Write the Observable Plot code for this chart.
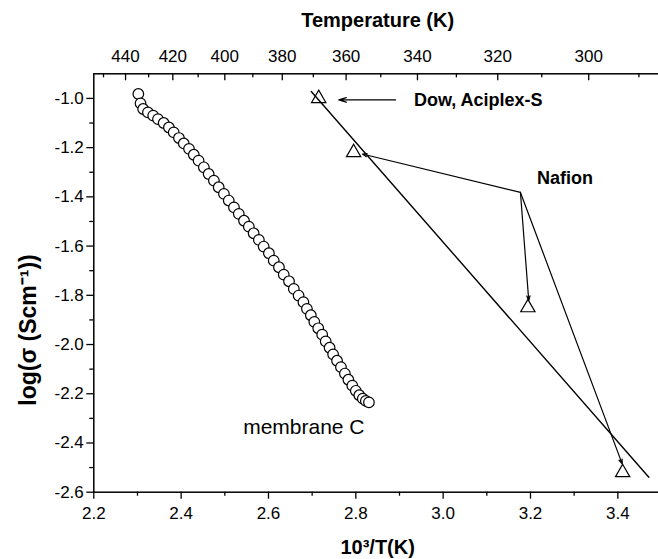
<!DOCTYPE html>
<html><head><meta charset="utf-8">
<script src="https://cdn.jsdelivr.net/npm/d3@7"></script>
<script src="https://cdn.jsdelivr.net/npm/@observablehq/plot@0.6"></script>
<style>
body{margin:0;background:#fff;}
#chart svg{font-family:"Liberation Sans", Arial, sans-serif;}
</style>
</head><body><div id="chart"></div>
<script>
// membrane C (open circles)
const memX = [2.302,2.307,2.313,2.324,2.336,2.347,2.360,2.372,2.383,2.395,2.406,2.418,2.429,2.440,2.452,2.463,2.475,2.486,2.498,2.509,2.521,2.532,2.544,2.555,2.566,2.578,2.589,2.601,2.612,2.624,2.635,2.647,2.658,2.669,2.680,2.688,2.697,2.705,2.714,2.723,2.731,2.740,2.748,2.757,2.766,2.775,2.783,2.792,2.800,2.808,2.816,2.823,2.830];
const memY = [-0.982,-1.020,-1.043,-1.057,-1.070,-1.084,-1.100,-1.118,-1.138,-1.161,-1.183,-1.205,-1.229,-1.253,-1.280,-1.307,-1.334,-1.361,-1.388,-1.415,-1.443,-1.469,-1.497,-1.521,-1.548,-1.575,-1.602,-1.629,-1.659,-1.686,-1.716,-1.743,-1.774,-1.801,-1.828,-1.855,-1.881,-1.908,-1.934,-1.960,-1.987,-2.013,-2.040,-2.066,-2.092,-2.118,-2.143,-2.167,-2.188,-2.206,-2.220,-2.229,-2.235];
// literature points (open triangles): Dow/Aciplex-S and Nafion
const triX = [2.715, 2.795, 3.194, 3.411];
const triY = [-1.00, -1.22, -1.85, -2.52];
// straight line
const fitX = [2.698, 3.471];
const fitY = [-0.972, -2.539];
// arrows
const dowArrowFrom = [2.891, -1.006], dowArrowTo = [2.761, -1.006];
const nafionFrom = [3.177, -1.382];
const nafionToX = [2.815, 3.196, 3.410];
const nafionToY = [-1.226, -1.821, -2.485];
// annotations
const labelText = ["Dow, Aciplex-S", "Nafion"];
const labelX = [2.933, 3.215];
const labelY = [-1.007, -1.326];
const memLabel = "membrane C", memLabelX = 2.82, memLabelY = -2.336;
// ticks
const xTicks = [2.2,2.4,2.6,2.8,3.0,3.2,3.4];
const xMinor = [2.3,2.5,2.7,2.9,3.1,3.3,3.5];
const yTicks = [-2.6,-2.4,-2.2,-2.0,-1.8,-1.6,-1.4,-1.2,-1.0];
const yMinor = [-2.5,-2.3,-2.1,-1.9,-1.7,-1.5,-1.3,-1.1];
const topTemps = [440,420,400,380,360,340,320,300];
const topMinorTemps = [450,430,410,390,370,350,330,310,290];
const xTitle = "10\u00B3/T(K)";
const yTitle = "log(\u03C3 (Scm\u207B\u00B9))";
const topTitle = "Temperature (K)";

const W = 658, H = 559, mT = 73.3, mB = 67.3, mL = 93.3, mR = -3;
const frameH = H - mT - mB;

const mem = memX.map((x,i)=>({x, y: memY[i]}));
const tri = triX.map((x,i)=>({x, y: triY[i]}));
const fit = fitX.map((x,i)=>({x, y: fitY[i]}));
const nafArrows = nafionToX.map((x,i)=>({x1: nafionFrom[0], y1: nafionFrom[1], x2: x, y2: nafionToY[i]}));
const dowArrow = [{x1: dowArrowFrom[0], y1: dowArrowFrom[1], x2: dowArrowTo[0], y2: dowArrowTo[1]}];
const labels = labelText.map((t,i)=>({t, x: labelX[i], y: labelY[i]}));
const topMajor = topTemps.map(t=>1000/t);
const topMinor = topMinorTemps.map(t=>1000/t);

const chart = Plot.plot({
  width: W, height: H,
  marginTop: mT, marginBottom: mB, marginLeft: mL, marginRight: mR,
  style: {fontFamily: '"Liberation Sans", Arial, sans-serif', background: "white", color: "black"},
  x: {domain: [2.2, 3.5]},
  y: {domain: [-2.6, -0.9]},
  marks: [
    Plot.frame({stroke: "black", strokeWidth: 1.5}),
    Plot.axisY(yTicks, {tickSize: 7, tickPadding: 3, strokeWidth: 1.3, tickFormat: d => d.toFixed(1), fontSize: 17, label: null}),
    Plot.axisY(yMinor, {tickSize: 4, strokeWidth: 1.3, tickFormat: () => "", label: null}),
    Plot.axisX(xTicks, {anchor: "bottom", tickSize: 7, tickPadding: 8, strokeWidth: 1.3, tickFormat: d => d.toFixed(1), fontSize: 17, label: null}),
    Plot.axisX(xMinor, {anchor: "bottom", tickSize: 4, strokeWidth: 1.3, tickFormat: () => "", label: null}),
    Plot.axisX(topMajor, {anchor: "top", tickSize: 0, tickPadding: 12, tickFormat: d => String(Math.round(1000/d)), fontSize: 17, label: null}),
    Plot.tickX(topMajor, {x: d => d, insetBottom: frameH - 7, strokeWidth: 1.3}),
    Plot.tickX(topMinor, {x: d => d, insetBottom: frameH - 4, strokeWidth: 1.3}),
    Plot.line(fit, {x: "x", y: "y", stroke: "black", strokeWidth: 1.4}),
    Plot.arrow(dowArrow, {x1: "x1", y1: "y1", x2: "x2", y2: "y2", stroke: "black", strokeWidth: 1.3, headLength: 9, headAngle: 35}),
    Plot.arrow(nafArrows, {x1: "x1", y1: "y1", x2: "x2", y2: "y2", stroke: "black", strokeWidth: 1.2, headLength: 6, headAngle: 40}),
    Plot.dot(mem, {x: "x", y: "y", r: 5.3, stroke: "black", fill: "white", strokeWidth: 1.2}),
    Plot.dot(tri, {x: "x", y: "y", symbol: "triangle", r: 5.3, stroke: "black", fill: "none", strokeWidth: 1.2}),
    Plot.text(labels, {x: "x", y: "y", text: "t", textAnchor: "start", fontWeight: "bold", fontSize: 18, fill: "black"}),
    Plot.text([memLabel], {x: () => memLabelX, y: () => memLabelY, text: d => d, textAnchor: "end", fontSize: 21, fill: "black"}),
    Plot.text([topTitle], {text: d => d, frameAnchor: "top", textAnchor: "middle", lineAnchor: "middle", dy: -53, fontWeight: "bold", fontSize: 20, fill: "black"}),
    Plot.text([xTitle], {text: d => d, frameAnchor: "bottom", textAnchor: "middle", lineAnchor: "middle", dy: 55, fontWeight: "bold", fontSize: 20, fill: "black"}),
    Plot.text([yTitle], {text: d => d, frameAnchor: "left", textAnchor: "middle", lineAnchor: "middle", rotate: -90, dx: -65, dy: 47, fontWeight: "bold", fontSize: 23, fill: "black"})
  ]
});
document.getElementById("chart").appendChild(chart);
</script>
</body></html>
